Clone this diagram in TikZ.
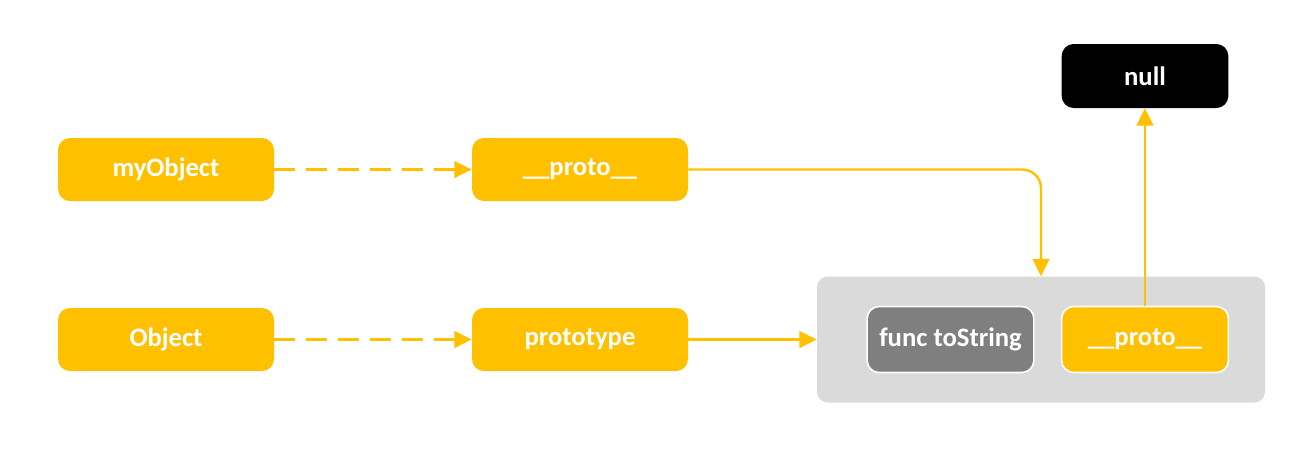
\documentclass[tikz,border=0pt]{standalone}
\usepackage{fontspec}
\setmainfont{Carlito}
\usetikzlibrary{arrows.meta}
\definecolor{ylw}{HTML}{FFC000}
\definecolor{boxgray}{HTML}{DADADA}
\definecolor{funcgray}{HTML}{7F7F7F}
\begin{document}
\begin{tikzpicture}[x=0.75pt,y=-0.75pt,
  lbl/.style={text=white,font=\fontsize{20}{24}\selectfont\bfseries},
  ybox/.style={lbl,rectangle,rounded corners=9pt,fill=ylw,minimum width=162pt,minimum height=47.25pt,inner sep=0pt},
  inbox/.style={lbl,rectangle,rounded corners=9pt,draw=white,line width=1.2pt,minimum width=125pt,minimum height=49.5pt,inner sep=0pt},
  conn/.style={draw=ylw,line width=1.8pt,-{Triangle[length=13pt,width=12.5pt]}},
  dconn/.style={conn,dash pattern=on 15.5pt off 8.5pt}
]
\useasboundingbox (0,0) rectangle (1312,472);
\node[ybox] (myobj) at (166,169.5) {myObject};
\node[ybox] (proto1) at (580,169.5) {\_\_proto\_\_};
\node[ybox] (obj) at (166,339.5) {Object};
\node[ybox] (ptype) at (580,339.5) {prototype};
\node[rectangle,rounded corners=8pt,fill=boxgray,minimum width=336pt,minimum height=94.5pt,inner sep=0pt] (box) at (1041,339.5) {};
\node[inbox,fill=funcgray] (func) at (950.5,339.5) {func toString};
\node[inbox,fill=ylw] (proto2) at (1145,339.5) {\_\_proto\_\_};
\node[lbl,rectangle,rounded corners=9pt,fill=black,minimum width=125pt,minimum height=48pt,inner sep=0pt] (null) at (1145,76) {null};
\draw[dconn] (myobj.east) -- (proto1.west);
\draw[dconn] (obj.east) -- (ptype.west);
\draw[conn] (ptype.east) -- (box.west);
\draw[conn,rounded corners=14pt] (proto1.east) -| (box.north);
\draw[conn] (proto2.north) -- (null.south);
\end{tikzpicture}
\end{document}
